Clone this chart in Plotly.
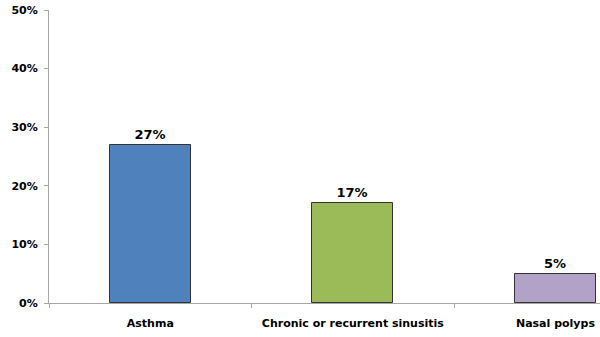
import plotly.graph_objects as go

categories = ["Asthma", "Chronic or recurrent sinusitis", "Nasal polyps"]
values = [0.27, 0.17, 0.05]
labels = ["27%", "17%", "5%"]
colors = ["#4F81BD", "#9BBB59", "#B3A2C7"]
y_ticks = [0, 0.1, 0.2, 0.3, 0.4, 0.5]
y_tick_labels = ["0%", "10%", "20%", "30%", "40%", "50%"]

FONT = "DejaVu Sans, Verdana, sans-serif"

fig = go.Figure(go.Bar(
    x=categories, y=values, text=labels, textposition="outside",
    textfont=dict(family=FONT, size=13, color="black", weight="bold"),
    cliponaxis=False,
    marker=dict(color=colors, line=dict(color="#333333", width=1)),
    width=0.4,
))

fig.update_layout(
    width=600, height=337,
    margin=dict(l=49, r=0, t=10, b=34),
    plot_bgcolor="white", paper_bgcolor="white",
    showlegend=False,
    font=dict(family=FONT, size=11, color="black"),
    bargap=0,
)
fig.update_xaxes(
    range=[-0.5, 2.22], showline=True, linecolor="#A6A6A6", linewidth=1,
    ticks="outside", tickson="boundaries", ticklen=4, tickcolor="#A6A6A6",
    tickfont=dict(family=FONT, size=11, weight="bold"), ticklabelstandoff=10,
    showgrid=False, zeroline=False, automargin=False,
)
fig.update_yaxes(
    range=[0, 0.5], tickvals=y_ticks, ticktext=y_tick_labels,
    showline=True, linecolor="#A6A6A6", linewidth=1,
    ticks="outside", ticklen=4, tickcolor="#A6A6A6",
    tickfont=dict(family=FONT, size=11, weight="bold"), ticklabelstandoff=4,
    showgrid=False, zeroline=False, automargin=False,
)

fig.write_html(
    "out.html",
    config={"displayModeBar": False},
    post_script="document.body.style.margin='0';document.body.style.overflow='hidden';",
)
